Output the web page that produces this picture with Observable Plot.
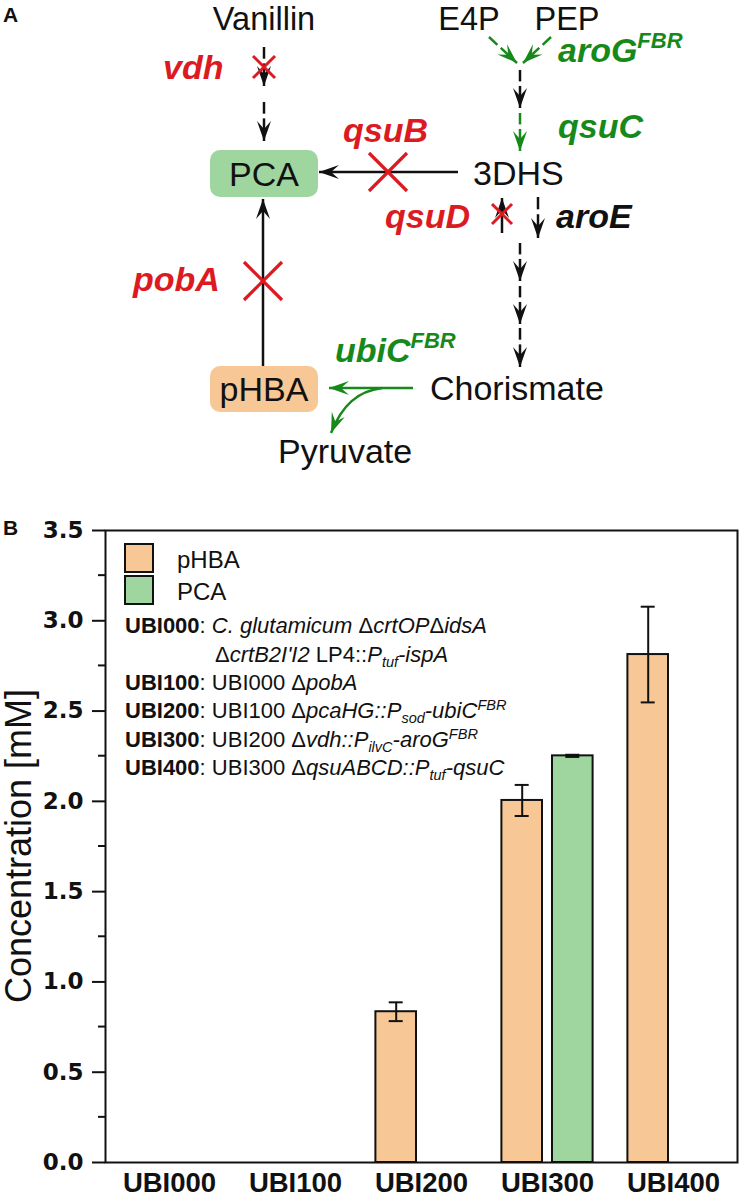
<!DOCTYPE html>
<html>
<head>
<meta charset="utf-8">
<script src="https://cdn.jsdelivr.net/npm/d3@7"></script>
<script src="https://cdn.jsdelivr.net/npm/@observablehq/plot@0.6"></script>
<style>
  html, body { margin: 0; padding: 0; background: #fff; }
  #chart svg { display: block; }
</style>
</head>
<body>
<div id="chart"></div>
<script>
// ---------- data ----------
const strains = ["UBI000", "UBI100", "UBI200", "UBI300", "UBI400"];
const compounds = ["pHBA", "PCA"];
const pHBAValues = [0, 0, 0.835, 2.005, 2.813];
const pHBAErrors = [0, 0, 0.052, 0.086, 0.265];
const PCAValues = [0, 0, 0, 2.252, 0];
const PCAErrors = [0, 0, 0, 0.006, 0];
const yTicks = [0, 0.5, 1, 1.5, 2, 2.5, 3, 3.5];
const yMinorTicks = [0.25, 0.75, 1.25, 1.75, 2.25, 2.75, 3.25];
const strainDescriptions = [
  "**UBI000**: *C. glutamicum* Δ*crtOP*Δ*idsA*",
  "Δ*crtB2I'I2* LP4::*P*_{tuf}*-ispA*",
  "**UBI100**: UBI000 Δ*pobA*",
  "**UBI200**: UBI100 Δ*pcaHG::P*_{sod}*-ubiC*^{FBR}",
  "**UBI300**: UBI200 Δ*vdh::P*_{ilvC}*-aroG*^{FBR}",
  "**UBI400**: UBI300 Δ*qsuABCD::P*_{tuf}*-qsuC*"
];

const colors = { pHBA: "#f8c796", PCA: "#9fd6a0" };
const RED = "#dc1a22", GREEN = "#17891a", BLACK = "#111";

const rows = strains.flatMap((s, i) => [
  { strain: s, compound: "pHBA", value: pHBAValues[i], err: pHBAErrors[i] },
  { strain: s, compound: "PCA", value: PCAValues[i], err: PCAErrors[i] }
]).filter(d => d.value > 0);

const offset = { pHBA: -25.3, PCA: 25.3 };

function seriesMarks(c) {
  const data = rows.filter(d => d.compound === c);
  const dx = offset[c];
  return [
    Plot.barY(data, { x: "strain", y: "value", fill: colors[c], stroke: BLACK, strokeWidth: 2,
      insetLeft: 42.7, insetRight: 42.7, dx }),
    Plot.ruleX(data, { x: "strain", y1: d => d.value - d.err, y2: d => d.value + d.err, dx,
      stroke: BLACK, strokeWidth: 2 }),
    Plot.tickY(data, { x: "strain", y: d => d.value + d.err, dx, insetLeft: 56, insetRight: 56,
      stroke: BLACK, strokeWidth: 2 }),
    Plot.tickY(data, { x: "strain", y: d => d.value - d.err, dx, insetLeft: 56, insetRight: 56,
      stroke: BLACK, strokeWidth: 2 })
  ];
}

const chart = Plot.plot({
  width: 739,
  height: 1198,
  marginTop: 530,
  marginLeft: 105,
  marginRight: 2,
  marginBottom: 36,
  x: { domain: strains, padding: 0, label: null, tickSize: 0, tickPadding: 10 },
  y: { domain: [0, 3.5], label: null, ticks: yTicks, tickSize: 13, tickPadding: 9, tickFormat: ".1f" },
  style: { fontFamily: "'Liberation Sans', Arial, sans-serif", background: "#fff", overflow: "visible", color: "#111" },
  marks: [
    ...seriesMarks("pHBA"),
    ...seriesMarks("PCA"),
    Plot.frame({ stroke: BLACK, strokeWidth: 2 })
  ]
});
document.getElementById("chart").appendChild(chart);

const svg = d3.select(chart);
// style the library's axes
svg.selectAll('[aria-label^="y-axis"]').attr("stroke-width", 2);
svg.selectAll('[aria-label^="y-axis"] text')
  .attr("font-size", 23).attr("font-weight", "bold")
  .attr("font-family", "'DejaVu Sans', sans-serif").attr("fill", BLACK);
svg.selectAll('[aria-label^="x-axis"] text')
  .attr("font-size", 27.5).attr("font-weight", "bold").attr("fill", BLACK);

// ---------- annotations: panel A diagram, legend, axis title ----------
const g = svg.append("g")
  .attr("font-family", "'Liberation Sans', Arial, sans-serif")
  .attr("text-anchor", "start");

// minor y ticks from the plot's own y scale
const yScale = chart.scale("y");
const x0 = 105;
g.selectAll("line.minor").data(yMinorTicks).join("line")
  .attr("x1", x0 - 7).attr("x2", x0)
  .attr("y1", d => yScale.apply(d)).attr("y2", d => yScale.apply(d))
  .attr("stroke", BLACK).attr("stroke-width", 2);

const defs = svg.append("defs");
function marker(id, color) {
  defs.append("marker").attr("id", id)
    .attr("viewBox", "-21 -8 22 16").attr("refX", 0).attr("refY", 0)
    .attr("markerWidth", 22).attr("markerHeight", 16)
    .attr("markerUnits", "userSpaceOnUse").attr("orient", "auto")
    .append("path").attr("d", "M0,0 L-20,-7 L-12,0 L-20,7 Z").attr("fill", color);
}
marker("ahK", BLACK); marker("ahG", GREEN);

function line(x1, y1, x2, y2, color, w = 2.5, head = false) {
  const l = g.append("line").attr("x1", x1).attr("y1", y1).attr("x2", x2).attr("y2", y2)
    .attr("stroke", color).attr("stroke-width", w);
  if (head) l.attr("marker-end", `url(#${color === GREEN ? "ahG" : "ahK"})`);
  return l;
}
function unit(x1, y1, x2, y2, color) {
  const len = Math.hypot(x2 - x1, y2 - y1), ux = (x2 - x1) / len, uy = (y2 - y1) / len;
  line(x1, y1, x1 + ux * len * 0.3, y1 + uy * len * 0.3, color, 2.5);
  line(x1 + ux * len * 0.42, y1 + uy * len * 0.42, x2, y2, color, 2.5, true);
}
function cross(cx, cy, r, w = 3) {
  line(cx - r, cy - r, cx + r, cy + r, RED, w);
  line(cx - r, cy + r, cx + r, cy - r, RED, w);
}
function label(t, x, y, opts = {}) {
  const el = g.append("text").attr("x", x).attr("y", y)
    .attr("font-size", opts.size || 34).attr("fill", opts.color || BLACK)
    .attr("text-anchor", opts.anchor || "start");
  if (opts.bold) el.attr("font-weight", "bold");
  if (opts.italic) el.attr("font-style", "italic");
  el.text(t);
  return el;
}
function geneLabel(t, sup, x, y, color) {
  const el = g.append("text").attr("x", x).attr("y", y).attr("font-size", 34)
    .attr("text-anchor", "start")
    .attr("font-weight", "bold").attr("font-style", "italic").attr("fill", color);
  el.append("tspan").text(t);
  if (sup) el.append("tspan").attr("font-size", 22).attr("dy", -14).text(sup);
}

label("A", 3, 22, { size: 21, bold: true });
label("B", 3, 535, { size: 21, bold: true });

g.append("rect").attr("x", 210).attr("y", 150).attr("width", 108).attr("height", 47)
  .attr("rx", 10).attr("fill", colors.PCA);
g.append("rect").attr("x", 210).attr("y", 366).attr("width", 108).attr("height", 46)
  .attr("rx", 10).attr("fill", colors.pHBA);

label("Vanillin", 264, 30, { anchor: "middle", size: 32.5 });
label("E4P", 469, 30, { anchor: "middle", size: 32.5 });
label("PEP", 567, 30, { anchor: "middle", size: 32.5 });
label("PCA", 264, 186, { anchor: "middle" });
label("3DHS", 473, 185);
label("pHBA", 264, 401, { anchor: "middle" });
label("Chorismate", 430, 400);
label("Pyruvate", 278, 463);

unit(264, 47, 264, 86, BLACK);
cross(264, 67, 11, 3);
unit(264, 102, 264, 141, BLACK);
geneLabel("vdh", null, 163, 79, RED);

unit(489, 37, 517, 63, GREEN);
unit(551, 37, 523, 63, GREEN);
geneLabel("aroG", "FBR", 558, 62, GREEN);
unit(520, 70, 520, 108, BLACK);
unit(520, 113, 520, 151, GREEN);
geneLabel("qsuC", null, 558, 138, GREEN);

line(458, 172, 319, 172, BLACK, 2.5, true);
cross(388, 172, 19, 3.2);
geneLabel("qsuB", null, 343, 142, RED);

line(502, 233, 502, 198, BLACK, 2.5, true);
cross(502, 214, 10, 3);
geneLabel("qsuD", null, 385, 228, RED);
unit(538, 197, 538, 238, BLACK);
geneLabel("aroE", null, 556, 228, BLACK);

unit(520, 243, 520, 281, BLACK);
unit(520, 286, 520, 324, BLACK);
unit(520, 328, 520, 367, BLACK);

line(263, 366, 263, 199, BLACK, 2.5, true);
cross(263, 281, 19, 3.2);
geneLabel("pobA", null, 133, 291, RED);

line(413, 388, 329, 388, GREEN, 2.5, true);
g.append("path").attr("d", "M382,388 C358,391 342,405 331,433")
  .attr("fill", "none").attr("stroke", GREEN).attr("stroke-width", 2.5)
  .attr("marker-end", "url(#ahG)");
geneLabel("ubiC", "FBR", 335, 362, GREEN);

// legend
compounds.forEach((c, i) => {
  const y0 = [544, 576][i];
  g.append("rect").attr("x", 125).attr("y", y0).attr("width", 28).attr("height", 28)
    .attr("fill", colors[c]).attr("stroke", BLACK).attr("stroke-width", 2);
  label(c, 177, y0 + 24, { size: 24 });
});

function richText(src, x, y, size) {
  const el = g.append("text").attr("x", x).attr("y", y).attr("font-size", size)
    .attr("text-anchor", "start").attr("fill", BLACK);
  const parts = src.split(/(\*\*[^*]+\*\*|\*[^*]+\*|_\{[^}]+\}|\^\{[^}]+\})/).filter(s => s.length);
  let shift = 0;
  for (const p of parts) {
    const t = el.append("tspan");
    let dy = -shift; shift = 0;
    if (p.startsWith("**")) { t.attr("font-weight", "bold").text(p.slice(2, -2)); }
    else if (p.startsWith("_{")) { t.attr("font-style", "italic").attr("font-size", size * 0.66).text(p.slice(2, -1)); shift = 5; dy += 5; }
    else if (p.startsWith("^{")) { t.attr("font-style", "italic").attr("font-size", size * 0.66).text(p.slice(2, -1)); shift = -8; dy -= 8; }
    else if (p.startsWith("*")) { t.attr("font-style", "italic").text(p.slice(1, -1)); }
    else { t.text(p); }
    if (dy) t.attr("dy", dy);
  }
}
const lineX = [125, 215, 125, 125, 125, 125];
const lineY = [633, 662, 690, 718, 747, 775];
strainDescriptions.forEach((s, i) => richText(s, lineX[i], lineY[i], 22));

g.append("text").attr("transform", "translate(31,846) rotate(-90)")
  .attr("text-anchor", "middle").attr("font-size", 36).attr("fill", BLACK)
  .text("Concentration [mM]");
</script>
</body>
</html>
